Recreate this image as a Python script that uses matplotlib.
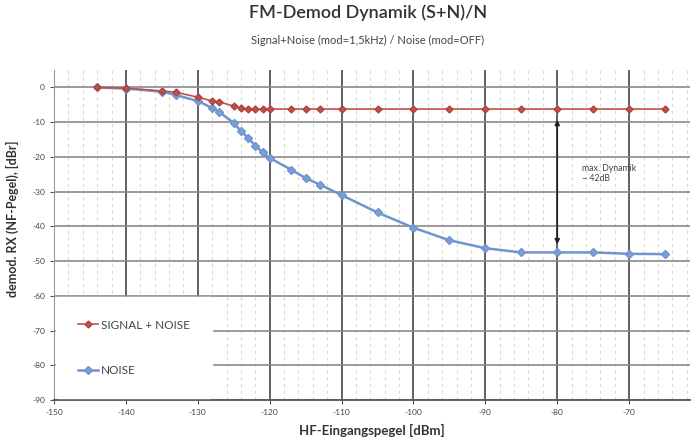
import matplotlib
matplotlib.use("Agg")
import matplotlib.pyplot as plt
from matplotlib.ticker import MultipleLocator

plt.rcParams['font.family'] = ['Lato', 'DejaVu Sans']

# Data
sn_x = [-144, -140, -135, -133, -130, -128, -127, -125, -124, -123, -122, -121, -120,
        -117, -115, -113, -110, -105, -100, -95, -90, -85, -80, -75, -70, -65]
sn_y = [0, -0.2, -1.0, -1.4, -2.8, -3.9, -4.1, -5.4, -6.0, -6.2, -6.2, -6.2, -6.2,
        -6.2, -6.2, -6.2, -6.2, -6.2, -6.2, -6.2, -6.2, -6.2, -6.2, -6.2, -6.2, -6.2]
n_x = [-144, -140, -135, -133, -130, -128, -127, -125, -124, -123, -122, -121, -120,
       -117, -115, -113, -110, -105, -100, -95, -90, -85, -80, -75, -70, -65]
n_y = [0, -0.3, -1.2, -2.2, -3.9, -5.9, -7.1, -10.2, -12.6, -14.5, -16.8, -18.6, -20.3,
       -23.7, -26.1, -28.0, -31.0, -36.0, -40.4, -44.0, -46.3, -47.5, -47.5, -47.5, -47.9, -48.0]
x_ticks = [-150, -140, -130, -120, -110, -100, -90, -80, -70]
y_ticks = [0, -10, -20, -30, -40, -50, -60, -70, -80, -90]

fig = plt.figure(figsize=(6.93, 4.41), dpi=100)
ax = fig.add_axes([0.078, 0.093, 0.918, 0.748])

ax.set_xlim(-150, -61.5)
ax.set_ylim(-90, 5)
ax.set_xticks(x_ticks)
ax.set_yticks(y_ticks)
ax.xaxis.set_minor_locator(MultipleLocator(2))

ax.grid(True, which='major', axis='x', color='#555555', linewidth=1.3)
ax.grid(True, which='major', axis='y', color='#8a8a8a', linewidth=1.2)
ax.grid(True, which='minor', axis='x', color='#dcdccc', linewidth=0.8, linestyle=(0, (3, 3)))
ax.set_axisbelow(True)

for s in ['top', 'right']:
    ax.spines[s].set_visible(False)
ax.spines['left'].set_color('#9a9a9a')
ax.spines['bottom'].set_color('#555555')
ax.spines['bottom'].set_linewidth(1.3)

ax.tick_params(axis='both', which='major', labelsize=6, colors='#555555', length=3)
ax.tick_params(axis='both', which='minor', length=0)
ax.set_xticklabels([str(t) for t in x_ticks], color='#444444')
ax.set_yticklabels([str(t) for t in y_ticks], color='#444444')

ax.plot(sn_x, sn_y, color='#c0504d', linewidth=1.2, marker='D', markersize=3.5,
        markerfacecolor='#c0504d', markeredgecolor='#b04040', label='SIGNAL + NOISE', zorder=4)
ax.plot(n_x, n_y, color='#6f94d0', linewidth=1.8, marker='D', markersize=4,
        markerfacecolor='#7a9fd8', markeredgecolor='#6f94d0', label='NOISE', zorder=3)

ax.annotate('', xy=(-80, -46), xytext=(-80, -8.5),
            arrowprops=dict(arrowstyle='<|-|>', color='#222222', lw=1.2, mutation_scale=7))
ax.text(-76.5, -22, 'max. Dynamik\n~ 42dB', fontsize=6.3, color='#444444', va='top', ha='left')

leg = ax.legend(loc='lower left', bbox_to_anchor=(0.0, 0.0), frameon=True, fontsize=8.5,
                labelspacing=2.9, handlelength=1.7, borderpad=1.9, handletextpad=0.2,
                borderaxespad=0.15)
leg.get_frame().set_facecolor('white')
leg.get_frame().set_edgecolor('white')
leg.get_frame().set_alpha(1)
for t in leg.get_texts():
    t.set_color('#444444')

ax.set_xlabel('HF-Eingangspegel [dBm]', fontsize=9.5, fontweight='bold', color='#333333', labelpad=6)
ax.set_ylabel('demod. RX (NF-Pegel), [dBr]', fontsize=9, fontweight='bold', color='#333333', labelpad=6)
ax.yaxis.set_label_coords(-0.055, 0.55)

fig.text(0.531, 0.972, 'FM-Demod Dynamik (S+N)/N', ha='center', va='center', fontsize=13,
         color='#333333', fontweight='semibold')
fig.text(0.531, 0.909, 'Signal+Noise (mod=1,5kHz) / Noise (mod=OFF)', ha='center', va='center',
         fontsize=8, color='#444444')

fig.savefig('out.png', dpi=100, facecolor='white')
